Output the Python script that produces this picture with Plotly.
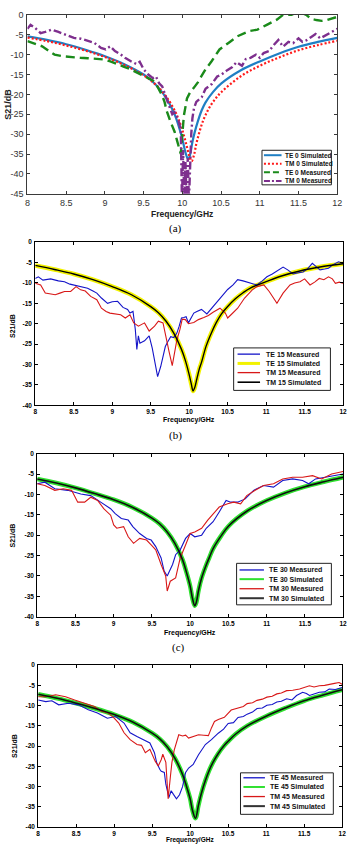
import plotly.graph_objects as go

W, H = 353, 848

# ---------------- DATA ----------------
x_ticks = [8, 8.5, 9, 9.5, 10, 10.5, 11, 11.5, 12]
x_ticktext = ["8", "8.5", "9", "9.5", "10", "10.5", "11", "11.5", "12"]
ya_ticks = [0, -5, -10, -15, -20, -25, -30, -35, -40, -45]
ya_ticktext = ["0", "-5", "-10", "-15", "-20", "-25", "-30", "-35", "-40", "-45"]
yb_ticks = [0, -5, -10, -15, -20, -25, -30, -35, -40]
yb_ticktext = ["0", "-5", "-10", "-15", "-20", "-25", "-30", "-35", "-40"]

# (a) normal incidence
a_te_sim_f = [8, 8.25, 8.5, 8.75, 9, 9.25, 9.5, 9.6, 9.7, 9.8, 9.9, 9.95, 10.0, 10.03, 10.06, 10.08, 10.1, 10.13, 10.16, 10.2, 10.25, 10.3, 10.4, 10.5, 10.75, 11, 11.25, 11.5, 11.75, 12]
a_te_sim = [-5.4, -6.3, -7.4, -8.8, -10.4, -12.4, -15.0, -16.5, -18.5, -21.2, -25.0, -27.8, -31.2, -33.8, -35.8, -36.3, -35.2, -32.0, -29.5, -26.8, -24.0, -22.0, -19.3, -17.3, -14.0, -11.7, -9.7, -8.0, -6.8, -5.8]
a_tm_sim_f = [8, 8.25, 8.5, 8.75, 9, 9.25, 9.5, 9.6, 9.7, 9.8, 9.9, 9.95, 10.0, 10.05, 10.09, 10.12, 10.15, 10.18, 10.22, 10.27, 10.33, 10.4, 10.5, 10.75, 11, 11.25, 11.5, 11.75, 12]
a_tm_sim = [-5.7, -6.6, -7.7, -9.0, -10.6, -12.6, -15.2, -16.6, -18.4, -20.8, -24.0, -26.2, -29.0, -32.5, -35.5, -36.8, -35.3, -32.5, -29.5, -26.5, -24.0, -21.8, -19.5, -15.5, -12.8, -10.7, -8.9, -7.6, -6.5]
a_te_meas_f = [8.0, 8.1, 8.19, 8.27, 8.35, 8.45, 8.57, 8.68, 8.78, 8.88, 8.98, 9.07, 9.15, 9.24, 9.32, 9.4, 9.49, 9.56, 9.62, 9.66, 9.7, 9.74, 9.77, 9.8, 9.84, 9.87, 9.9, 9.93, 9.96, 9.98, 10.0, 10.02, 10.06, 10.1, 10.15, 10.2, 10.25, 10.3, 10.38, 10.48, 10.6, 10.71, 10.86, 10.97, 11.09, 11.22, 11.3, 11.41, 11.47, 11.53, 11.6, 11.66, 11.73, 11.8, 11.87, 11.93, 12.0]
a_te_meas = [-6.6, -7.2, -7.9, -9.0, -10.0, -10.4, -10.7, -10.8, -10.9, -11.0, -11.2, -11.7, -12.4, -13.0, -13.6, -14.4, -15.3, -15.9, -16.5, -17.4, -18.7, -20.3, -21.9, -24.3, -26.5, -28.0, -29.4, -31.5, -33.6, -35.0, -30.0, -25.3, -21.0, -19.5, -18.3, -17.0, -15.3, -13.7, -11.6, -8.7, -7.0, -5.4, -4.1, -3.7, -2.5, -1.2, 0.0, 0.0, 0.6, 0.6, 0.0, -1.0, -1.3, -1.5, -1.3, -1.0, -0.5]
a_tm_meas_f = [8.0, 8.04, 8.1, 8.17, 8.23, 8.31, 8.4, 8.5, 8.6, 8.69, 8.78, 8.86, 8.95, 9.01, 9.07, 9.13, 9.2, 9.26, 9.33, 9.41, 9.45, 9.5, 9.56, 9.62, 9.66, 9.7, 9.74, 9.78, 9.82, 9.87, 9.9, 9.95, 9.98, 9.995, 10.01, 10.025, 10.04, 10.055, 10.07, 10.085, 10.1, 10.115, 10.13, 10.15, 10.18, 10.25, 10.3, 10.38, 10.45, 10.5, 10.58, 10.64, 10.7, 10.77, 10.82, 10.88, 10.95, 11.0, 11.05, 11.12, 11.18, 11.24, 11.3, 11.37, 11.43, 11.5, 11.55, 11.6, 11.66, 11.72, 11.78, 11.85, 11.92, 12.0]
a_tm_meas = [-3.5, -2.5, -3.3, -4.6, -4.3, -3.7, -4.3, -5.1, -5.8, -6.0, -6.6, -7.0, -8.3, -8.7, -7.9, -9.1, -9.9, -10.8, -11.6, -12.4, -11.8, -13.7, -15.0, -15.9, -15.5, -17.2, -18.0, -20.5, -22.4, -25.0, -24.5, -26.6, -29.0, -47, -34, -47, -37, -47, -36, -47, -38, -30, -26, -23.5, -21.9, -20.7, -18.6, -17.4, -15.5, -15.1, -13.9, -13.2, -11.9, -12.8, -11.1, -10.8, -10.0, -10.8, -9.6, -9.1, -7.6, -6.3, -8.0, -6.8, -7.1, -5.9, -6.8, -6.4, -5.6, -4.8, -5.9, -5.2, -4.4, -3.5]

# (b) 15 degrees
b_sim_f = [8, 8.25, 8.5, 8.75, 9, 9.25, 9.5, 9.6, 9.7, 9.8, 9.9, 9.95, 10.0, 10.03, 10.05, 10.07, 10.1, 10.13, 10.16, 10.22, 10.29, 10.35, 10.42, 10.5, 10.6, 10.7, 10.8, 11.0, 11.2, 11.45, 11.7, 12]
b_sim = [-5.7, -6.7, -7.8, -9.2, -10.9, -12.9, -15.8, -17.3, -19.4, -22.3, -26.3, -29.0, -32.5, -35.0, -36.5, -35.8, -33.5, -31.2, -29.5, -25.5, -22.2, -19.8, -17.6, -15.8, -13.9, -12.4, -11.2, -9.7, -8.3, -7.0, -6.1, -5.3]
b_te_meas_f = [8.0, 8.04, 8.1, 8.2, 8.3, 8.38, 8.45, 8.5, 8.58, 8.68, 8.75, 8.8, 8.86, 8.94, 9.0, 9.07, 9.14, 9.2, 9.23, 9.27, 9.3, 9.32, 9.34, 9.36, 9.42, 9.48, 9.52, 9.55, 9.59, 9.63, 9.69, 9.72, 9.76, 9.8, 9.84, 9.87, 9.9, 9.93, 9.96, 9.99, 10.03, 10.06, 10.1, 10.16, 10.23, 10.3, 10.37, 10.44, 10.5, 10.57, 10.63, 10.7, 10.76, 10.82, 10.88, 10.95, 11.01, 11.08, 11.14, 11.22, 11.28, 11.35, 11.42, 11.48, 11.54, 11.6, 11.65, 11.7, 11.76, 11.81, 11.87, 11.94, 12.0]
b_te_meas = [-8.9, -8.5, -9.3, -9.0, -9.5, -9.7, -10.3, -10.5, -10.8, -11.3, -12.0, -12.5, -13.7, -15.0, -14.6, -14.5, -16.0, -16.5, -17.4, -17.0, -21.4, -26.3, -23.0, -24.8, -24.2, -23.0, -26.0, -29.0, -33.0, -30.5, -25.6, -24.5, -23.2, -23.4, -22.3, -20.6, -18.6, -18.5, -18.3, -19.8, -18.5, -17.4, -17.0, -16.5, -17.6, -16.0, -14.5, -13.0, -11.6, -10.5, -9.2, -9.5, -9.8, -10.2, -10.5, -9.5, -8.5, -7.8, -7.1, -6.1, -6.8, -7.8, -7.5, -7.3, -6.5, -5.2, -6.0, -6.8, -6.6, -6.4, -5.5, -4.8, -5.2]
b_tm_meas_f = [8.0, 8.07, 8.13, 8.2, 8.26, 8.32, 8.38, 8.46, 8.53, 8.59, 8.65, 8.72, 8.8, 8.86, 8.92, 8.97, 9.05, 9.11, 9.17, 9.23, 9.28, 9.34, 9.42, 9.48, 9.55, 9.6, 9.66, 9.7, 9.74, 9.78, 9.81, 9.84, 9.88, 9.91, 9.95, 9.99, 10.06, 10.12, 10.19, 10.25, 10.31, 10.4, 10.47, 10.5, 10.56, 10.63, 10.72, 10.82, 10.88, 10.97, 11.04, 11.09, 11.14, 11.22, 11.31, 11.37, 11.44, 11.5, 11.57, 11.63, 11.69, 11.75, 11.81, 11.86, 11.9, 11.95, 12.0]
b_tm_meas = [-10.1, -10.5, -12.5, -12.8, -12.9, -12.5, -12.1, -12.1, -10.9, -11.7, -12.0, -13.3, -14.1, -16.2, -17.0, -17.4, -17.6, -17.8, -18.6, -17.8, -19.8, -20.6, -19.8, -21.8, -20.6, -19.4, -19.8, -23.0, -27.0, -30.3, -27.5, -24.0, -21.4, -18.9, -19.0, -20.0, -19.7, -19.0, -18.5, -18.0, -17.2, -16.2, -17.4, -18.6, -17.5, -16.2, -13.7, -11.7, -10.9, -10.5, -12.1, -13.5, -15.0, -12.5, -10.5, -10.0, -9.7, -9.0, -10.5, -9.8, -8.9, -9.2, -8.5, -9.0, -10.1, -9.8, -10.1]

# (c) 30 degrees
c_sim_f = [8, 8.25, 8.5, 8.75, 9, 9.25, 9.5, 9.6, 9.7, 9.8, 9.9, 9.95, 10.0, 10.03, 10.06, 10.08, 10.11, 10.15, 10.2, 10.25, 10.3, 10.4, 10.5, 10.75, 11, 11.25, 11.5, 11.75, 12]
c_sim = [-6.2, -7.2, -8.4, -9.8, -11.3, -13.2, -15.8, -17.2, -19.2, -22.0, -26.0, -29.0, -32.5, -35.5, -37.3, -36.5, -33.5, -30.5, -27.8, -25.5, -23.3, -20.3, -17.8, -14.0, -11.5, -9.6, -8.1, -6.9, -5.8]
c_te_meas_f = [8.0, 8.1, 8.23, 8.4, 8.57, 8.7, 8.83, 8.96, 9.02, 9.1, 9.19, 9.25, 9.34, 9.43, 9.49, 9.55, 9.62, 9.66, 9.7, 9.77, 9.81, 9.87, 9.94, 10.0, 10.06, 10.15, 10.21, 10.3, 10.38, 10.47, 10.53, 10.62, 10.72, 10.83, 10.96, 11.09, 11.21, 11.34, 11.47, 11.55, 11.64, 11.77, 11.9, 12.0]
c_te_meas = [-7.4, -7.0, -8.6, -9.0, -9.9, -10.3, -11.9, -13.5, -14.7, -15.9, -16.3, -17.9, -19.6, -20.8, -21.2, -22.8, -25.6, -28.8, -30.0, -27.2, -24.8, -23.6, -20.8, -19.6, -20.4, -20.0, -18.3, -16.7, -14.3, -11.5, -11.9, -11.9, -11.1, -9.0, -7.8, -8.2, -6.6, -6.2, -6.6, -7.4, -6.2, -5.8, -5.4, -5.0]
c_tm_meas_f = [8.0, 8.1, 8.23, 8.34, 8.45, 8.53, 8.62, 8.7, 8.79, 8.87, 8.96, 9.0, 9.04, 9.13, 9.19, 9.26, 9.34, 9.43, 9.49, 9.55, 9.62, 9.68, 9.7, 9.74, 9.81, 9.87, 9.94, 10.0, 10.06, 10.15, 10.23, 10.32, 10.38, 10.49, 10.57, 10.66, 10.74, 10.85, 10.96, 11.09, 11.21, 11.34, 11.47, 11.6, 11.72, 11.85, 12.0]
c_tm_meas = [-7.4, -7.8, -9.0, -8.6, -9.0, -11.9, -11.9, -10.7, -11.5, -13.5, -15.1, -17.5, -18.3, -17.9, -20.4, -22.0, -20.8, -21.2, -22.4, -23.6, -27.2, -30.0, -33.7, -31.3, -30.5, -25.6, -22.4, -19.6, -19.2, -18.3, -16.3, -14.3, -13.1, -12.3, -11.9, -12.3, -10.3, -9.0, -7.8, -7.4, -6.2, -5.8, -5.8, -5.4, -6.2, -5.0, -4.4]

# (d) 45 degrees
d_sim_f = [8, 8.25, 8.5, 8.75, 9, 9.25, 9.5, 9.6, 9.7, 9.8, 9.9, 9.95, 10.0, 10.03, 10.07, 10.11, 10.15, 10.2, 10.25, 10.3, 10.37, 10.45, 10.5, 10.6, 10.75, 11, 11.25, 11.5, 11.75, 12]
d_sim = [-7.2, -8.2, -9.4, -10.7, -12.2, -14.1, -16.8, -18.2, -20.2, -23.0, -27.0, -29.8, -33.0, -35.8, -37.8, -34.5, -31.5, -28.5, -26.0, -24.0, -21.8, -19.8, -18.8, -17.0, -15.0, -12.6, -10.6, -8.8, -7.4, -6.1]
d_te_meas_f = [8.0, 8.1, 8.18, 8.27, 8.4, 8.53, 8.66, 8.78, 8.91, 9.02, 9.13, 9.21, 9.3, 9.38, 9.47, 9.53, 9.56, 9.6, 9.62, 9.66, 9.68, 9.72, 9.75, 9.78, 9.8, 9.82, 9.86, 9.9, 9.94, 9.98, 10.04, 10.11, 10.2, 10.28, 10.37, 10.44, 10.5, 10.57, 10.63, 10.7, 10.75, 10.82, 10.88, 10.95, 11.01, 11.08, 11.14, 11.2, 11.27, 11.34, 11.4, 11.48, 11.53, 11.57, 11.62, 11.7, 11.77, 11.83, 11.91, 12.0]
d_te_meas = [-8.6, -9.0, -8.8, -9.8, -9.4, -9.8, -11.0, -11.8, -13.1, -12.7, -14.3, -16.7, -17.6, -18.4, -19.2, -21.6, -24.1, -25.7, -26.2, -26.5, -29.4, -32.7, -31.0, -31.9, -32.5, -33.0, -32.0, -30.0, -26.5, -25.4, -24.5, -22.1, -19.6, -18.4, -16.8, -15.8, -14.4, -14.2, -12.9, -12.7, -12.1, -11.6, -10.7, -10.6, -9.9, -9.7, -9.1, -8.9, -8.3, -8.6, -7.5, -6.7, -7.0, -7.5, -7.2, -6.7, -6.6, -5.9, -6.0, -5.5]
d_tm_meas_f = [8.0, 8.1, 8.23, 8.36, 8.48, 8.61, 8.74, 8.83, 8.92, 9.0, 9.06, 9.13, 9.21, 9.3, 9.36, 9.41, 9.47, 9.54, 9.58, 9.62, 9.64, 9.68, 9.71, 9.74, 9.76, 9.79, 9.81, 9.85, 9.9, 9.94, 9.98, 10.04, 10.11, 10.18, 10.24, 10.28, 10.32, 10.37, 10.45, 10.54, 10.63, 10.7, 10.75, 10.82, 10.88, 10.95, 11.01, 11.08, 11.14, 11.2, 11.27, 11.35, 11.44, 11.5, 11.57, 11.63, 11.7, 11.77, 11.83, 11.9, 11.96, 12.0]
d_tm_meas = [-7.8, -7.8, -7.3, -7.8, -8.6, -9.4, -10.2, -11.4, -11.8, -13.1, -14.3, -16.7, -18.4, -19.6, -19.8, -21.6, -20.8, -23.7, -24.9, -23.3, -22.0, -24.0, -33.0, -27.5, -24.0, -21.0, -19.5, -17.2, -17.5, -17.3, -18.0, -17.6, -17.2, -17.3, -17.4, -15.5, -13.9, -13.4, -12.9, -11.1, -10.7, -10.2, -9.5, -9.3, -8.7, -8.4, -7.9, -7.7, -7.1, -6.9, -6.3, -6.2, -5.9, -5.5, -5.1, -5.4, -5.1, -5.0, -4.7, -4.5, -4.3, -4.7]

# ---------------- LAYOUT HELPERS ----------------
def PX(x): return x / W
def PY(y): return 1 - y / H

FONT = "Liberation Sans, Arial, sans-serif"
fig = go.Figure()

# panel pixel boxes: (left, right, top, bottom)
boxes = {
    1: (25, 342, 10, 191),
    2: (33, 348, 240, 405),
    3: (35, 348, 454, 619),
    4: (36, 347, 668, 832),
}

layout = dict(width=W, height=H, margin=dict(l=0, r=0, t=0, b=0),
              paper_bgcolor="white", plot_bgcolor="white", showlegend=False,
              font=dict(family=FONT))

for i, (l, r, t, b) in boxes.items():
    sx = "" if i == 1 else str(i)
    if i == 1:
        lc, tf = "#3a3a3a", dict(size=9, color="#333333", family=FONT)
        yt, ytt, yr = ya_ticks, ya_ticktext, [-45, 0]
    else:
        lc, tf = "black", dict(size=6.5, color="black", family=FONT, weight="bold")
        yt, ytt, yr = yb_ticks, yb_ticktext, [-40, 0]
    layout["xaxis" + sx] = dict(domain=[PX(l), PX(r)], anchor="y" + sx, range=[8, 12],
                                tickvals=x_ticks, ticktext=x_ticktext, ticks="inside",
                                ticklen=3, tickcolor=lc, showline=True, linecolor=lc,
                                linewidth=1, mirror="ticks", showgrid=False, zeroline=False,
                                tickfont=tf, ticklabelstandoff=0)
    layout["yaxis" + sx] = dict(domain=[PY(b), PY(t)], anchor="x" + sx, range=yr,
                                tickvals=yt, ticktext=ytt, ticks="inside", ticklen=3,
                                tickcolor=lc, showline=True, linecolor=lc, linewidth=1,
                                mirror="ticks", showgrid=False, zeroline=False,
                                tickfont=tf, ticklabelstandoff=1)

def add(xs, ys, ax, color, width, dash="solid", shape="linear"):
    sx = "" if ax == 1 else str(ax)
    fig.add_trace(go.Scatter(x=xs, y=ys, xaxis="x" + sx, yaxis="y" + sx, mode="lines",
                             line=dict(color=color, width=width, dash=dash, shape=shape),
                             hoverinfo="skip"))

BLUE_A, RED_A, GREEN_A, PURPLE_A = "#1f7fc4", "#ff1a1a", "#1a8a1a", "#7E2F8E"
# (a)
add(a_te_sim_f, a_te_sim, 1, BLUE_A, 2.2, shape="spline")
add(a_tm_sim_f, a_tm_sim, 1, RED_A, 2.2, dash="2px,2px", shape="spline")
add(a_te_meas_f, a_te_meas, 1, GREEN_A, 2.4, dash="9px,5px")
add(a_tm_meas_f, a_tm_meas, 1, PURPLE_A, 2.4, dash="8px,3px,2px,3px")

BLUE, RED, YEL, GRN = "#1414c8", "#d81818", "#f2f200", "#2fe02f"
# (b)
add(b_sim_f, b_sim, 2, YEL, 4.5, shape="spline")
add(b_te_meas_f, b_te_meas, 2, BLUE, 1.1)
add(b_tm_meas_f, b_tm_meas, 2, RED, 1.1)
add(b_sim_f, b_sim, 2, "black", 1.4, shape="spline")
# (c)
add(c_sim_f, c_sim, 3, GRN, 4.5, shape="spline")
add(c_te_meas_f, c_te_meas, 3, BLUE, 1.1)
add(c_tm_meas_f, c_tm_meas, 3, RED, 1.1)
add(c_sim_f, c_sim, 3, "#101010", 1.6, shape="spline")
# (d)
add(d_sim_f, d_sim, 4, GRN, 4.5, shape="spline")
add(d_te_meas_f, d_te_meas, 4, BLUE, 1.1)
add(d_tm_meas_f, d_tm_meas, 4, RED, 1.1)
add(d_sim_f, d_sim, 4, "#101010", 1.6, shape="spline")

shapes, annotations = [], []

def legend(box, line_x, text_x, rows, size=7):
    l, r, t, b = box
    shapes.append(dict(type="rect", xref="paper", yref="paper", x0=PX(l), x1=PX(r),
                       y0=PY(b), y1=PY(t), line=dict(color="#222222", width=1),
                       fillcolor="white", layer="above"))
    for (y, label, color, width, dash) in rows:
        shapes.append(dict(type="line", xref="paper", yref="paper", x0=PX(line_x[0]),
                           x1=PX(line_x[1]), y0=PY(y), y1=PY(y), layer="above",
                           line=dict(color=color, width=width, dash=dash)))
        annotations.append(dict(xref="paper", yref="paper", x=PX(text_x), y=PY(y),
                                text=label, showarrow=False, xanchor="left", yanchor="middle",
                                font=dict(size=size, family=FONT, color="#111111", weight="bold")))

legend((265, 336, 147, 182), (267, 285), 287,
       [(152, "TE 0 Simulated", BLUE_A, 2, "solid"),
        (160.7, "TM 0 Simulated", RED_A, 2, "2px,2px"),
        (169.3, "TE 0 Measured", GREEN_A, 2, "6px,3px"),
        (178, "TM 0 Measured", PURPLE_A, 2, "6px,2px,2px,2px")], size=6.5)
legend((236, 335, 347, 390), (240, 263), 267,
       [(353.3, "TE 15 Measured", BLUE, 1.3, "solid"),
        (362.7, "TE 15 Simulated", YEL, 3, "solid"),
        (372, "TM 15 Measured", RED, 1.3, "solid"),
        (381.7, "TM 15 Simulated", "black", 1.6, "solid")])
legend((239, 336, 565, 607), (242, 267), 270,
       [(571.7, "TE 30 Measured", BLUE, 1.3, "solid"),
        (581, "TE 30 Simulated", GRN, 2, "solid"),
        (590.7, "TM 30 Measured", RED, 1.3, "solid"),
        (600.3, "TM 30 Simulated", "#333333", 2, "solid")])
legend((243, 338, 777, 819), (246, 268), 271,
       [(782, "TE 45 Measured", BLUE, 1.3, "solid"),
        (791.3, "TE 45 Simulated", GRN, 2, "solid"),
        (801, "TM 45 Measured", RED, 1.3, "solid"),
        (810.7, "TM 45 Simulated", "#333333", 2, "solid")])

def text(x, y, s, size, bold=True, angle=0, family=FONT, color="black"):
    annotations.append(dict(xref="paper", yref="paper", x=PX(x), y=PY(y), text=s,
                            showarrow=False, xanchor="center", yanchor="middle",
                            textangle=angle,
                            font=dict(size=size, family=family, color=color,
                                      weight="bold" if bold else "normal")))

# axis titles
text(183, 211, "Frequency/GHz", 8.5, color="#222222")
text(5, 100, "S21/dB", 9, angle=-90, color="#222222")
text(190, 420, "Frequency/GHz", 7)
text(9, 325, "S21/dB", 7, angle=-90)
text(191, 635, "Frequency/GHz", 7)
text(10, 537, "S21/dB", 7, angle=-90)
text(191, 844.5, "Frequency/GHz", 6.5)
text(11, 750, "S21/dB", 7, angle=-90)
# panel captions
SERIF = "Liberation Serif, Times New Roman, serif"
text(177, 226, "(a)", 11, bold=False, family=SERIF)
text(177, 436, "(b)", 11, bold=False, family=SERIF)
text(180, 650, "(c)", 11, bold=False, family=SERIF)

layout["shapes"] = shapes
layout["annotations"] = annotations
fig.update_layout(**layout)
fig.write_html("out.html")
